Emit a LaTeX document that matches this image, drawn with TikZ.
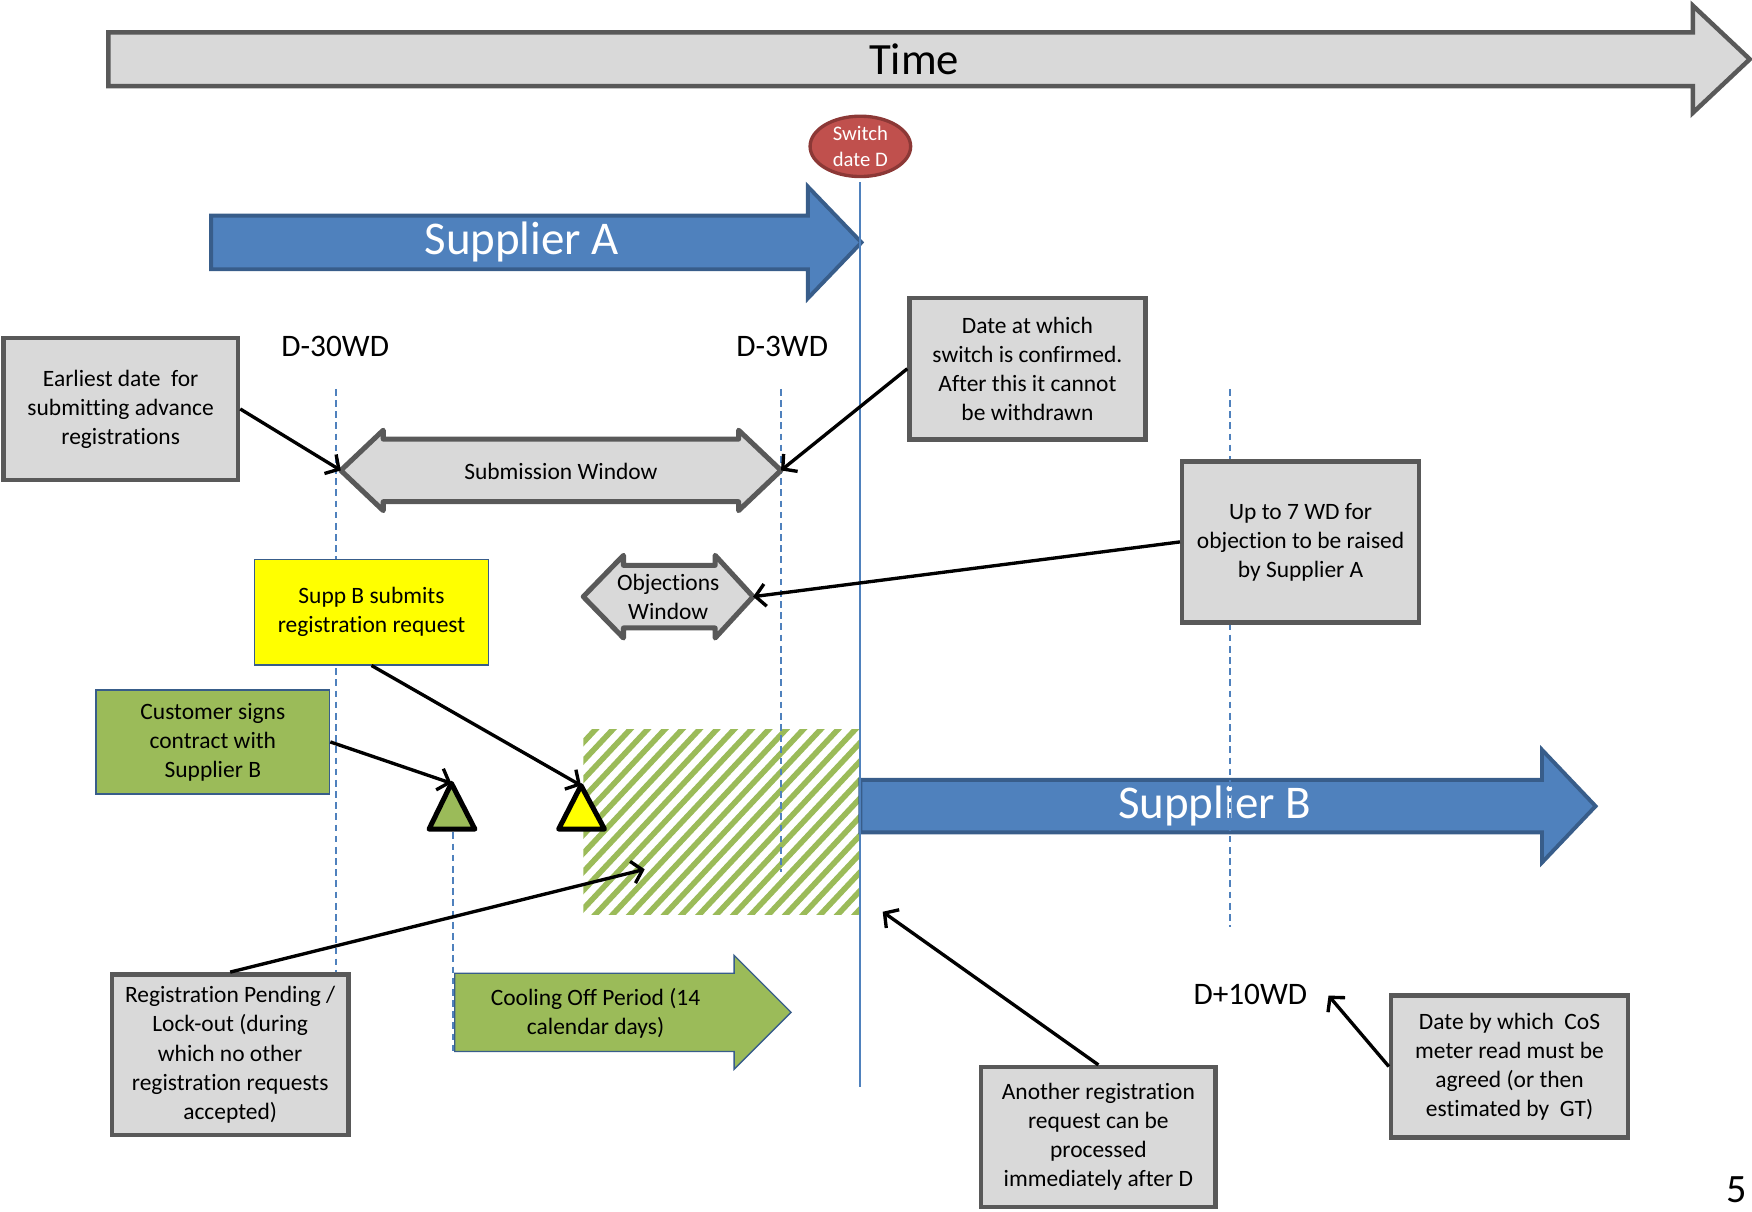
\documentclass[tikz,border=0pt]{standalone}
\usepackage{fontspec}
\setmainfont{Carlito}[Ligatures=NoCommon]
\usetikzlibrary{arrows.meta,shapes.geometric}

\definecolor{shapegray}{HTML}{D9D9D9}
\definecolor{edgegray}{HTML}{595959}
\definecolor{suppblue}{HTML}{4F81BD}
\definecolor{suppedge}{HTML}{385D8A}
\definecolor{switchred}{HTML}{C0504D}
\definecolor{switchedge}{HTML}{8C3836}
\definecolor{leafgreen}{HTML}{9BBB59}
\definecolor{signyellow}{HTML}{FFFF00}

\newcommand{\fsz}[2]{\fontsize{#1}{#2}\selectfont}

\tikzset{
  graybox/.style={draw=edgegray, line width=4, fill=shapegray, align=center,
    font=\fsz{21}{26}, inner sep=0, text=black},
  flatbox/.style={draw=suppedge, line width=1.2, align=center,
    font=\fsz{21}{26}, inner sep=0, text=black},
  bigarrow/.style={draw=edgegray, line width=4, fill=shapegray, line join=miter},
  supparrow/.style={draw=suppedge, line width=3.5, fill=suppblue, line join=miter},
  dblarrow/.style={draw=edgegray, line width=4.5, fill=shapegray, line join=round},
  marker/.style={draw=black, line width=4.5, line join=round},
  guide/.style={draw=suppblue, line width=1.8, dash pattern=on 6pt off 4pt},
  pointer/.style={draw=black, line width=3, -{Straight Barb[length=9pt,width=20pt,line width=3pt]}},
  tag/.style={font=\fsz{28}{34}, inner sep=0},
  bandtext/.style={font=\fsz{42}{50}, text=white, inner sep=0},
}

\begin{document}
\begin{tikzpicture}[x=1pt,y=-1pt]
\useasboundingbox (0,0) rectangle (1568,1084);

% lock-out period: green hatching
\begin{scope}
  \clip (522,653) rectangle (769,818);
  \foreach \k in {-12,...,18}
    \draw[leafgreen, line width=5] (522+\k*15.5,830) -- (522+\k*15.5+177,653-12);
\end{scope}

% time axis
\draw[bigarrow] (97,29) -- (1515,29) -- (1515,5) -- (1566,53) -- (1515,101)
  -- (1515,77) -- (97,77) -- cycle;
\node[font=\fsz{40}{48}, inner sep=0] (time) at (818,53) {Time};

% supplier A and supplier B bands
\draw[supparrow] (189,193) -- (723,193) -- (723,167) -- (771,217) -- (723,267)
  -- (723,241) -- (189,241) -- cycle;
\node[bandtext] (suppA) at (467,217) {Supplier A};
\draw[supparrow] (770,698) -- (1380,698) -- (1380,671) -- (1428,721.5) -- (1380,772)
  -- (1380,745) -- (770,745) -- cycle;
\node[bandtext] (suppBband) at (1087,721) {Supplier B};

% working-day guides
\draw[guide] (301,348) -- (301,870);
\draw[guide] (699,348) -- (699,780);
\draw[guide] (1101,348) -- (1101,830);
\draw[guide] (405,745) -- (405,941);

% switch date
\coordinate (dtop) at (770,163);
\coordinate (dbot) at (770,973);
\draw[suppblue, line width=1.8] (dtop) -- (dbot);
\node[ellipse, draw=switchedge, line width=3, fill=switchred, minimum width=90,
  minimum height=54, inner sep=0, align=center, text=white, font=\fsz{18.5}{22.5}]
  (switch) at (770,131) {Switch\\date D};

% date labels
\node[tag] (dm30) at (300,310) {D-30WD};
\node[tag] (dm3) at (700,310) {D-3WD};
\node[tag] (dp10) at (1119,890) {D+10WD};

% submission window
\coordinate (subL) at (305,421);
\coordinate (subR) at (699,421);
\draw[dblarrow] (subL) -- (343,385) -- (343,393) -- (661,393) -- (661,385) -- (subR)
  -- (661,457) -- (661,449) -- (343,449) -- (343,457) -- cycle;
\node[font=\fsz{21}{26}, inner sep=0] (subtext) at (502,422) {Submission Window};

% objections window
\coordinate (objL) at (522,534);
\coordinate (objR) at (674,534);
\draw[dblarrow] (objL) -- (558,497) -- (558,506) -- (640,506) -- (640,497) -- (objR)
  -- (640,571) -- (640,562) -- (558,562) -- (558,571) -- cycle;
\node[font=\fsz{21}{26}, inner sep=0, align=center] (objtext) at (598,534) {Objections\\Window};

% cooling off period
\draw[draw=suppedge, line width=1.2, fill=leafgreen] (407,871) -- (657,871) -- (657,855)
  -- (708,906) -- (657,957) -- (657,941) -- (407,941) -- cycle;
\node[font=\fsz{21}{26}, inner sep=0, align=center] (cooling) at (533,907)
  {Cooling Off Period (14\\calendar days)};

% markers
\coordinate (gtri) at (404,701);
\coordinate (ytri) at (520,703);
\draw[marker, fill=leafgreen] (gtri) -- (425,742) -- (384,742) -- cycle;
\draw[marker, fill=signyellow] (ytri) -- (541,742) -- (500,742) -- cycle;

% note boxes
\node[graybox, minimum width=210, minimum height=127] (earliest) at (108,366)
  {Earliest date~ for\\submitting advance\\registrations};
\node[graybox, minimum width=211, minimum height=127] (dateat) at (919.5,330)
  {Date at which\\switch is confirmed.\\After this it cannot\\be withdrawn};
\node[graybox, minimum width=212, minimum height=144] (upto7) at (1164,485)
  {Up to 7 WD for\\objection to be raised\\by Supplier A};
\node[flatbox, fill=signyellow, minimum width=209, minimum height=94] (suppb) at (332.5,548)
  {Supp B submits\\registration request};
\node[flatbox, fill=leafgreen, minimum width=209, minimum height=93] (customer) at (190.5,664)
  {Customer signs\\contract with\\Supplier B};
\node[graybox, minimum width=212, minimum height=144] (pending) at (206,944)
  {Registration Pending /\\Lock-out (during\\which no other\\registration requests\\accepted)};
\node[graybox, minimum width=210, minimum height=125] (another) at (983,1017.5)
  {Another registration\\request can be\\processed\\immediately after D};
\node[graybox, minimum width=212, minimum height=127] (dateby) at (1351,954.5)
  {Date by which~ CoS\\meter read must be\\agreed (or then\\estimated by~ GT)};

% pointers
\coordinate (lockpt) at (577,778);
\coordinate (afterD) at (790,816);
\coordinate (readpt) at (1189,891);
\draw[pointer] (earliest.east) -- (subL);
\draw[pointer] (dateat.west) -- (subR);
\draw[pointer] (upto7.west) -- (objR);
\draw[pointer] (suppb.south) -- (ytri);
\draw[pointer] (customer.east) -- (gtri);
\draw[pointer] (pending.north) -- (lockpt);
\draw[pointer] (another.north) -- (afterD);
\draw[pointer] (dateby.west) -- (readpt);

% page number
\node[font=\fsz{36}{40}, inner sep=0, anchor=base] (pageno) at (1554,1076) {5};
\end{tikzpicture}
\end{document}
